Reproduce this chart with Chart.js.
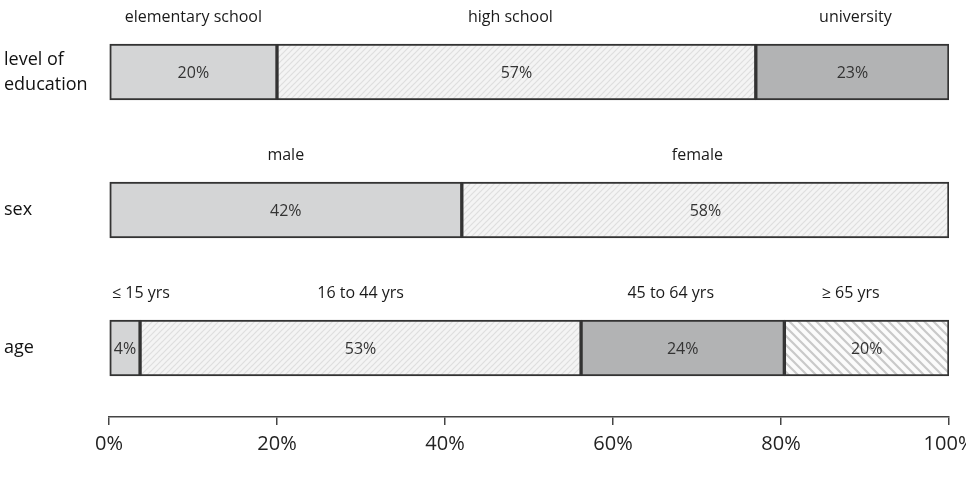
<!DOCTYPE html>
<html>
<head>
<meta charset="utf-8">
<script src="https://cdn.jsdelivr.net/npm/chart.js@4/dist/chart.umd.min.js"></script>
<style>
html,body{margin:0;padding:0;background:#fff;}
#wrap{width:966px;height:483px;position:relative;}
</style>
</head>
<body>
<div id="wrap"><canvas id="c" width="966" height="483"></canvas></div>
<script>
// ---- data ----
const rowLabels = [["level of","education"], ["sex"], ["age"]];
const seg1 = [20, 42, 3.7];
const seg2 = [57, 58, 52.5];
const seg3 = [23, null, 24.2];
const seg4 = [null, null, 19.6];
const segNames = [
  ["elementary school", "high school", "university"],
  ["male", "female"],
  ["\u2264 15 yrs", "16 to 44 yrs", "45 to 64 yrs", "\u2265 65 yrs"]
];
const valueLabels = [
  ["20%", "57%", "23%"],
  ["42%", "58%"],
  ["4%", "53%", "24%", "20%"]
];
const xTicks = [0, 20, 40, 60, 80, 100];

// ---- patterns ----
function hatch(size, bg, fg, lw, dir) {
  const c = document.createElement('canvas');
  c.width = size; c.height = size;
  const g = c.getContext('2d');
  g.fillStyle = bg; g.fillRect(0, 0, size, size);
  g.strokeStyle = fg; g.lineWidth = lw;
  g.beginPath();
  if (dir === '/') {
    g.moveTo(0, size); g.lineTo(size, 0);
    g.moveTo(-size/2, size/2); g.lineTo(size/2, -size/2);
    g.moveTo(size/2, size*1.5); g.lineTo(size*1.5, size/2);
  } else {
    g.moveTo(0, 0); g.lineTo(size, size);
    g.moveTo(-size/2, size/2); g.lineTo(size/2, size*1.5);
    g.moveTo(size/2, -size/2); g.lineTo(size*1.5, size/2);
  }
  g.stroke();
  return g.createPattern(c, 'repeat');
}
const ctx0 = document.getElementById('c').getContext('2d');
const fineHatch = hatch(6, '#f4f4f4', '#dedede', 1.2, '/');
const coarseHatch = hatch(9, '#fbfbfb', '#c9c9c9', 2.2, '\\');

const FONT = "'Open Sans', 'Noto Sans', sans-serif";

const segLabelPlugin = {
  id: 'segLabels',
  afterDatasetsDraw(chart, args, opts) {
    const g = chart.ctx;
    const area = chart.chartArea;
    const nudge = opts.nudge || [];
    g.save();
    chart.data.datasets.forEach((ds, i) => {
      const meta = chart.getDatasetMeta(i);
      meta.data.forEach((el, j) => {
        if (ds.data[j] == null) return;
        const cx = (el.x + el.base) / 2;
        const h = el.height;
        // value label
        g.font = "16px " + FONT;
        g.fillStyle = '#333';
        g.textAlign = 'center';
        g.textBaseline = 'middle';
        g.fillText(valueLabels[j][i], cx, el.y + 1);
        // segment name above
        g.font = "16px " + FONT;
        g.fillStyle = '#1a1a1a';
        const name = segNames[j][i];
        const w = g.measureText(name).width;
        let x = cx + ((nudge[j] && nudge[j][i]) || 0);
        if (x - w/2 < area.left + 3) x = area.left + 3 + w/2;
        if (x + w/2 > area.right) x = area.right - w/2;
        g.fillText(name, x, el.y - h/2 - 27);
      });
    });
    // row labels on left
    const ys = chart.scales.y;
    g.font = "18px " + FONT;
    g.fillStyle = '#111';
    g.textAlign = 'left';
    g.textBaseline = 'middle';
    rowLabels.forEach((lines, j) => {
      const y = ys.getPixelForValue(j);
      const lh = 25;
      lines.forEach((t, k) => {
        g.fillText(t, 4, y + (k - (lines.length - 1) / 2) * lh);
      });
    });
    g.restore();
  }
};

const common = { borderColor: '#333', borderWidth: 2, borderSkipped: false, barThickness: 56 };

new Chart(ctx0, {
  type: 'bar',
  data: {
    labels: rowLabels.map(l => l.join(' ')),
    datasets: [
      Object.assign({ data: seg1, backgroundColor: '#d4d5d6' }, common),
      Object.assign({ data: seg2, backgroundColor: fineHatch }, common),
      Object.assign({ data: seg3, backgroundColor: '#b2b3b4' }, common),
      Object.assign({ data: seg4, backgroundColor: coarseHatch }, common)
    ]
  },
  options: {
    indexAxis: 'y',
    responsive: false,
    animation: false,
    layout: { padding: { left: 109, right: 17, top: 3, bottom: 0 } },
    plugins: {
      legend: { display: false },
      tooltip: { enabled: false },
      segLabels: { nudge: [[0, -6, 3], [0, -8], [0, 0, -12, -16]] }
    },
    scales: {
      y: { stacked: true, display: false },
      x: {
        stacked: true,
        min: 0, max: 100,
        afterBuildTicks(scale) { scale.ticks = xTicks.map(v => ({ value: v })); },
        afterFit(scale) { scale.height = 66; scale.paddingLeft = 0; scale.paddingRight = 0; },
        border: { display: true, color: '#444', width: 1.5 },
        grid: { drawOnChartArea: false, drawTicks: true, tickLength: 8, color: '#444', lineWidth: 1.5 },
        ticks: {
          font: { family: FONT, size: 20 },
          color: '#222',
          padding: 7,
          callback: v => v + '%'
        }
      }
    }
  },
  plugins: [segLabelPlugin]
});
</script>
</body>
</html>
